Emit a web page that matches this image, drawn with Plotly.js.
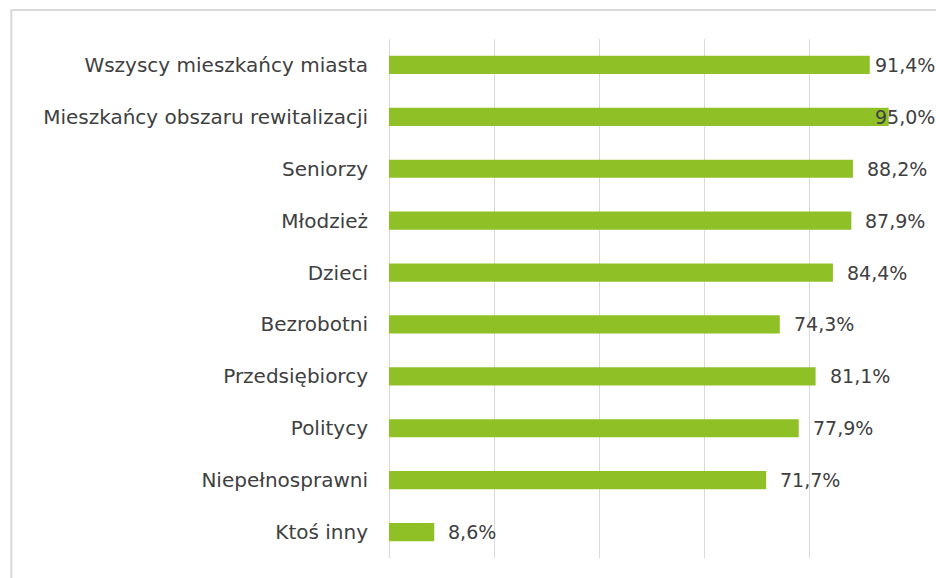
<!DOCTYPE html>
<html>
<head>
<meta charset="utf-8">
<script src="https://cdn.plot.ly/plotly-3.0.1.min.js"></script>
<style>
  html, body { margin: 0; padding: 0; background: #ffffff; }
  #chart { width: 936px; height: 578px; }
</style>
</head>
<body>
<div id="chart"></div>
<script>
const categories = [
  "Wszyscy mieszkańcy miasta",
  "Mieszkańcy obszaru rewitalizacji",
  "Seniorzy",
  "Młodzież",
  "Dzieci",
  "Bezrobotni",
  "Przedsiębiorcy",
  "Politycy",
  "Niepełnosprawni",
  "Ktoś inny"
];
const values = [91.4, 95.0, 88.2, 87.9, 84.4, 74.3, 81.1, 77.9, 71.7, 8.6];
const valueLabels = ["91,4%", "95,0%", "88,2%", "87,9%", "84,4%", "74,3%", "81,1%", "77,9%", "71,7%", "8,6%"];

const barColor = "#8fc127";
const textColor = "#404040";
const gridColor = "#d9d9d9";
const fontFamily = "DejaVu Sans, sans-serif";

// data labels sit right of the bar end, but are kept inside the chart's right edge
const labelMax = 89.7;
const annotations = categories.map((c, i) => ({
  x: Math.min(values[i], labelMax),
  y: c,
  xref: "x",
  yref: "y",
  text: valueLabels[i],
  showarrow: false,
  xanchor: "left",
  yanchor: "middle",
  xshift: 12,
  font: { family: fontFamily, size: 19, color: textColor }
}));

const trace = {
  type: "bar",
  orientation: "h",
  x: values,
  y: categories,
  marker: { color: barColor },
  hoverinfo: "none"
};

const layout = {
  width: 936,
  height: 578,
  margin: { l: 389, r: 21, t: 39, b: 20, pad: 0 },
  paper_bgcolor: "#ffffff",
  plot_bgcolor: "#ffffff",
  showlegend: false,
  bargap: 0.65,
  xaxis: {
    range: [0, 100],
    dtick: 20,
    showgrid: true,
    gridcolor: gridColor,
    gridwidth: 1,
    zeroline: true,
    zerolinecolor: gridColor,
    zerolinewidth: 1,
    showticklabels: false,
    showline: false,
    ticks: "",
    fixedrange: true
  },
  yaxis: {
    type: "category",
    autorange: "reversed",
    showgrid: false,
    zeroline: false,
    showline: false,
    ticks: "",
    ticklabelstandoff: 20,
    tickfont: { family: fontFamily, size: 20, color: textColor },
    fixedrange: true
  },
  annotations: annotations,
  shapes: [
    {
      type: "path",
      xref: "paper", yref: "paper",
      path: "M -0.718 -0.1 L -0.718 1.0559 L 1.2 1.0559",
      line: { color: gridColor, width: 2 },
      layer: "below"
    }
  ]
};

Plotly.newPlot("chart", [trace], layout, { displayModeBar: false, staticPlot: true });
</script>
</body>
</html>
